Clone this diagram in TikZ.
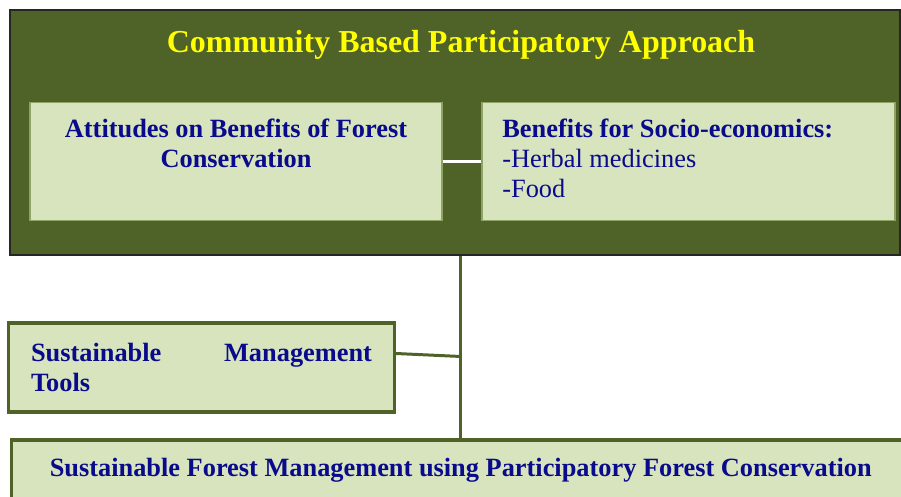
\documentclass[tikz,border=0pt]{standalone}
\usepackage{fontspec}
\setmainfont{Liberation Serif}
\usetikzlibrary{positioning}

\definecolor{olivedark}{HTML}{4F6228}
\definecolor{olivelight}{HTML}{D7E4BD}
\definecolor{oliveedge}{HTML}{8FA464}
\definecolor{navytext}{RGB}{10,10,140}
\definecolor{titleyellow}{HTML}{FFFF00}

\begin{document}
\begin{tikzpicture}[
    font=\fontsize{15}{17.2}\selectfont,
    outerbox/.style={draw=black!85, line width=0.9pt, fill=olivedark, inner sep=0pt},
    innerbox/.style={draw=oliveedge, line width=0.6pt, fill=olivelight, inner sep=0pt},
    thickbox/.style={draw=olivedark, line width=1.8pt, fill=olivelight},
    boxtext/.style={text=navytext, inner sep=0pt},
    link/.style={draw=olivedark, line width=1.7pt},
]
\useasboundingbox (0,0) rectangle (18.02,9.94);

% Outer frame with the title
\node[outerbox, minimum width=17.8cm, minimum height=4.9cm] (cbpa) at (9.1,7.29) {};
\node[text=titleyellow, anchor=base, font=\fontsize{18.2}{22}\selectfont\bfseries]
    (title) at (9.22,8.88) {Community Based Participatory Approach};

% Inner boxes
\node[innerbox, minimum width=8.24cm, minimum height=2.36cm] (attbox) at (4.72,6.71) {};
\node[innerbox, minimum width=8.26cm, minimum height=2.36cm] (socbox) at (13.77,6.71) {};

\node[boxtext, anchor=north, align=center, font=\fontsize{15}{17.2}\selectfont\bfseries]
    (atttext) at (4.72,7.57) {Attitudes on Benefits of Forest\\Conservation};
\node[boxtext, anchor=north west, align=left]
    (soctext) at (10.04,7.57) {\textbf{Benefits for Socio-economics:}\\-Herbal medicines\\-Food};

\draw[white!94!olivelight, line width=2.2pt] (attbox.east) -- (socbox.west);

% Lower boxes
\node[thickbox, minimum width=7.71cm, minimum height=1.78cm, text width=6.82cm,
      inner xsep=0.445cm, align=left, text=navytext, font=\fontsize{15}{17.4}\selectfont\bfseries]
    (tools) at (4.03,2.59) {Sustainable\hfill Management\\Tools};
\node[thickbox, minimum width=17.97cm, minimum height=1.2cm, text=navytext,
      font=\fontsize{15}{17.2}\selectfont\bfseries]
    (sfm) at (9.215,0.54) {Sustainable Forest Management using Participatory Forest Conservation};

% Connectors
\draw[link] (sfm.north) -- (sfm.north |- cbpa.south);
\draw[link] ([yshift=0.28cm]tools.east) -- ([yshift=0.22cm]tools.east -| sfm.north);

\end{tikzpicture}
\end{document}
